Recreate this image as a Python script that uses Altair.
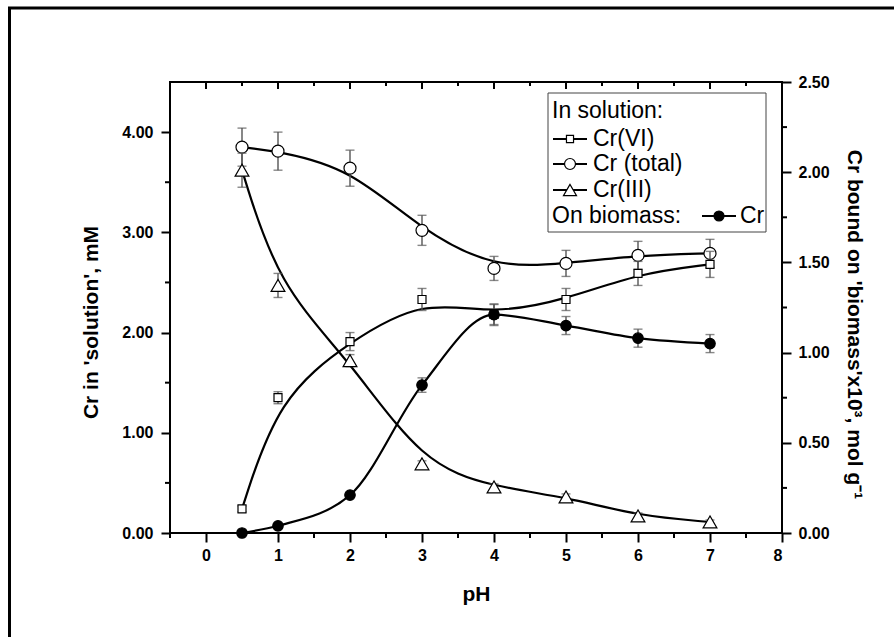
import altair as alt
import pandas as pd

# ---------------- data ----------------
ph = [0.5, 1, 2, 3, 4, 5, 6, 7]

cr6 = [0.24, 1.35, 1.91, 2.33, 2.18, 2.33, 2.59, 2.68]
cr6_err = [0.03, 0.06, 0.09, 0.11, 0.10, 0.11, 0.12, 0.13]

cr_total = [3.85, 3.81, 3.64, 3.02, 2.64, 2.69, 2.77, 2.79]
cr_total_err = [0.19, 0.19, 0.18, 0.15, 0.12, 0.13, 0.14, 0.14]

cr3 = [3.62, 2.47, 1.72, 0.69, 0.46, 0.36, 0.17, 0.11]
cr3_err = [0.17, 0.12, 0.06, 0.03, 0.03, 0.03, 0.03, 0.02]

cr_bound = [0.00, 0.04, 0.21, 0.82, 1.21, 1.15, 1.08, 1.05]
cr_bound_err = [0.00, 0.01, 0.01, 0.04, 0.06, 0.05, 0.05, 0.05]

x_ticks_major = [0, 1, 2, 3, 4, 5, 6, 7, 8]
x_ticks_minor = [-0.5, 0.5, 1.5, 2.5, 3.5, 4.5, 5.5, 6.5, 7.5]
yl_ticks_major = [0, 1, 2, 3, 4]
yl_ticks_minor = [0.5, 1.5, 2.5, 3.5]
yr_ticks_major = [0, 0.5, 1.0, 1.5, 2.0, 2.5]
yr_ticks_minor = [0.25, 0.75, 1.25, 1.75, 2.25]

legend_head = "In solution:"
legend_names = ["Cr(VI)", "Cr (total)", "Cr(III)"]
legend_bio = "On biomass:"
legend_bio_name = "Cr"

x_title = "pH"
yl_title = "Cr in 'solution', mM"
yr_title = "Cr bound on 'biomass'x10\u00b3, mol g\u207b\u00b9"

FONT = "Liberation Sans"
W, H = 612, 451
LEG_FS = 23


def sdf(vals, errs):
    return pd.DataFrame({
        "ph": ph,
        "v": vals,
        "lo": [v - e for v, e in zip(vals, errs)],
        "hi": [v + e for v, e in zip(vals, errs)],
    })


x_axis = alt.Axis(values=x_ticks_major, format="d", title=x_title, titleX=W / 2,
                  titleY=67, titleBaseline="alphabetic", titleAlign="center",
                  labelPadding=5)
yl_axis = alt.Axis(values=yl_ticks_major, format=".2f", title=yl_title, orient="left",
                   titleX=-73, titleY=240, titleAngle=270, titleBaseline="alphabetic",
                   titleAlign="center", labelPadding=8)
yr_axis = alt.Axis(values=yr_ticks_major, format=".2f", title=yr_title, orient="right",
                   titleX=65, titleY=242, titleAngle=90, titleBaseline="alphabetic",
                   titleAlign="center", labelPadding=7)

x_scale = alt.Scale(domain=[-0.5, 8], nice=False, zero=False)
yl_scale = alt.Scale(domain=[0, 4.5], nice=False, zero=False)
yr_scale = alt.Scale(domain=[0, 2.5], nice=False, zero=False)


def X(f):
    return alt.X(f, type="quantitative", scale=x_scale, axis=x_axis)


def YL(f):
    return alt.Y(f, type="quantitative", scale=yl_scale, axis=yl_axis)


def YR(f):
    return alt.Y(f, type="quantitative", scale=yr_scale, axis=yr_axis)


ERR = "#555555"


def series_layers(df, Y, shape, size, filled, interp):
    base = alt.Chart(df)
    line = base.mark_line(color="black", strokeWidth=2.2, interpolate=interp).encode(
        x=X("ph"), y=Y("v"))
    bar = base.mark_rule(color=ERR, strokeWidth=1.4).encode(
        x=X("ph"), y=Y("lo"), y2=alt.Y2("hi"))
    cap_hi = base.mark_tick(color=ERR, thickness=1.4, size=9, orient="horizontal").encode(
        x=X("ph"), y=Y("hi"))
    cap_lo = base.mark_tick(color=ERR, thickness=1.4, size=9, orient="horizontal").encode(
        x=X("ph"), y=Y("lo"))
    pts = base.mark_point(shape=shape, size=size, filled=True,
                          fill="black" if filled else "white",
                          stroke="black", strokeWidth=1.2, opacity=1).encode(
        x=X("ph"), y=Y("v"))
    return [line, bar, cap_hi, cap_lo, pts]


one = pd.DataFrame({"d": [0]})


def txt(s, x, y, size=LEG_FS):
    return alt.Chart(one).mark_text(align="left", baseline="middle", font=FONT,
                                    fontSize=size, color="black").encode(
        x=alt.value(x), y=alt.value(y), text=alt.value(s))


def leg_symbol(x0, x1, y, shape, size, filled):
    seg = alt.Chart(one).mark_rule(color="black", strokeWidth=2).encode(
        x=alt.value(x0), x2=alt.value(x1), y=alt.value(y))
    pt = alt.Chart(one).mark_point(shape=shape, size=size, filled=True,
                                   fill="black" if filled else "white",
                                   stroke="black", strokeWidth=1.2, opacity=1).encode(
        x=alt.value((x0 + x1) / 2), y=alt.value(y))
    return [seg, pt]


# ticks drawn as rules (minor ticks and the inward top ticks)
def tick_df(v):
    return pd.DataFrame({"t": v})


bottom_minor = alt.Chart(tick_df(x_ticks_minor)).mark_rule(color="black", strokeWidth=2).encode(
    x=X("t"), y=alt.value(H), y2=alt.value(H + 5))
top_major = alt.Chart(tick_df(x_ticks_major)).mark_rule(color="black", strokeWidth=2).encode(
    x=X("t"), y=alt.value(0), y2=alt.value(7))
top_minor = alt.Chart(tick_df(x_ticks_minor)).mark_rule(color="black", strokeWidth=2).encode(
    x=X("t"), y=alt.value(0), y2=alt.value(4))
left_minor = alt.Chart(tick_df(yl_ticks_minor)).mark_rule(color="black", strokeWidth=2).encode(
    y=YL("t"), x=alt.value(-5), x2=alt.value(0))
right_minor = alt.Chart(tick_df(yr_ticks_minor)).mark_rule(color="black", strokeWidth=2).encode(
    y=YR("t"), x=alt.value(W), x2=alt.value(W + 5))

# outer frame (left and top edges)
frame_left = alt.Chart(one).mark_rule(color="black", strokeWidth=3).encode(
    x=alt.value(-160.5), y=alt.value(-74), y2=alt.value(560))
frame_top = alt.Chart(one).mark_rule(color="black", strokeWidth=3).encode(
    x=alt.value(-162), x2=alt.value(724), y=alt.value(-74))

# legend
leg_box = alt.Chart(one).mark_rect(fill="white", stroke="#444444", strokeWidth=1).encode(
    x=alt.value(378), x2=alt.value(596), y=alt.value(11), y2=alt.value(150))
legend = [leg_box, txt(legend_head, 382, 29)]
leg_rows = [(57, "square", 50, False), (82, "circle", 120, False), (108, "triangle-up", 170, False)]
for name, (yy, shp, sz, fl) in zip(legend_names, leg_rows):
    legend += leg_symbol(383, 417, yy, shp, sz, fl)
    legend.append(txt(name, 423, yy))
legend.append(txt(legend_bio, 382, 134))
legend += leg_symbol(532, 566, 134, "circle", 100, True)
legend.append(txt(legend_bio_name, 570, 134))

left_layers = [frame_left, frame_top, bottom_minor, top_major, top_minor, left_minor]
left_layers += series_layers(sdf(cr_total, cr_total_err), YL, "circle", 144, False, "basis")
left_layers += series_layers(sdf(cr6, cr6_err), YL, "square", 64, False, "basis")
left_layers += series_layers(sdf(cr3, cr3_err), YL, "triangle-up", 190, False, "basis")
left_layers += legend

right_layers = [right_minor]
right_layers += series_layers(sdf(cr_bound, cr_bound_err), YR, "circle", 110, True, "monotone")

left = alt.layer(*left_layers)
right = alt.layer(*right_layers)

chart = alt.layer(left, right).resolve_scale(y="independent").properties(
    width=W, height=H,
    autosize=alt.AutoSizeParams(type="none"),
    padding={"left": 170, "top": 82, "right": 112, "bottom": 104},
    background="white",
).configure_view(
    stroke="black", strokeWidth=2
).configure_axis(
    grid=False, domain=False, ticks=True, tickColor="black", tickWidth=2, tickSize=9,
    labelFont=FONT, labelFontSize=16, labelFontWeight="bold", labelColor="black",
    titleFont=FONT, titleFontSize=21, titleFontWeight="bold", titleColor="black",
)

chart.save("out.html", embed_options={"renderer": "svg", "actions": False})
